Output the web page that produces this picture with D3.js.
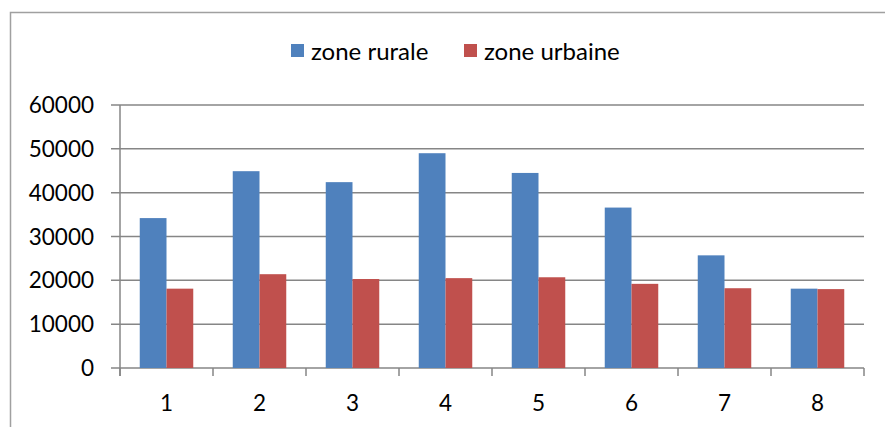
<!DOCTYPE html>
<html><head><meta charset="utf-8">
<script src="https://cdn.jsdelivr.net/npm/d3@7"></script>
<style>html,body{margin:0;padding:0;background:#fff;}svg{display:block;}</style>
</head><body>
<script>
const categories = ["1","2","3","4","5","6","7","8"];
const seriesNames = ["zone rurale","zone urbaine"];
const rurale = [34200, 44900, 42400, 49000, 44500, 36600, 25700, 18100];
const urbaine = [18100, 21400, 20300, 20500, 20700, 19200, 18200, 18000];
const yTicks = [0,10000,20000,30000,40000,50000,60000];
const colors = ["#4F81BD","#C0504D"];

const W=885,H=427;
const svg=d3.select("body").append("svg").attr("width",W).attr("height",H);
svg.append("rect").attr("x",10.5).attr("y",12.5).attr("width",W).attr("height",H)
  .attr("fill","none").attr("stroke","#a0a0a0").attr("stroke-width",1.5);

const x=d3.scaleBand().domain(categories).range([120,864]).padding(0);
const xs=d3.scaleBand().domain(seriesNames).range([0,x.bandwidth()]).paddingInner(0).paddingOuter(0.738);
const y=d3.scaleLinear().domain([0,60000]).range([368,105]);
const font="Lato, 'Open Sans', sans-serif";

// gridlines
svg.append("g").selectAll("line").data(yTicks).join("line")
  .attr("x1",111).attr("x2",864).attr("y1",d=>y(d)).attr("y2",d=>y(d))
  .attr("stroke","#868686").attr("stroke-width",1.5);
// y labels
svg.append("g").selectAll("text").data(yTicks).join("text")
  .attr("x",94).attr("y",d=>y(d)).attr("dy","0.36em").attr("text-anchor","end")
  .attr("font-family",font).attr("font-size",22.5).attr("fill","#000").text(d=>d);

// bars
const data=categories.map((c,i)=>({c,vals:[rurale[i],urbaine[i]]}));
const g=svg.append("g").selectAll("g").data(data).join("g").attr("transform",d=>`translate(${x(d.c)},0)`);
g.selectAll("rect").data(d=>d.vals.map((v,j)=>({k:seriesNames[j],v,j}))).join("rect")
  .attr("x",d=>xs(d.k)).attr("width",xs.bandwidth()).attr("y",d=>y(d.v)).attr("height",d=>y(0)-y(d.v))
  .attr("fill",d=>colors[d.j]);

// axes lines
svg.append("line").attr("x1",120).attr("x2",120).attr("y1",105).attr("y2",376).attr("stroke","#868686").attr("stroke-width",1.5);
const bounds=categories.map(c=>x(c)).concat([864]);
svg.append("g").selectAll("line").data(bounds).join("line")
  .attr("x1",d=>d).attr("x2",d=>d).attr("y1",368).attr("y2",376).attr("stroke","#868686").attr("stroke-width",1.5);
svg.append("g").selectAll("text").data(categories).join("text")
  .attr("x",d=>x(d)+x.bandwidth()/2).attr("y",403).attr("dy","0.36em").attr("text-anchor","middle")
  .attr("font-family",font).attr("font-size",22.5).attr("fill","#000").text(d=>d);

// legend
const leg=[{n:seriesNames[0],sx:291,tx:311,c:colors[0]},{n:seriesNames[1],sx:464,tx:484,c:colors[1]}];
const lg=svg.append("g").selectAll("g").data(leg).join("g");
lg.append("rect").attr("x",d=>d.sx).attr("y",44).attr("width",13).attr("height",13).attr("fill",d=>d.c);
lg.append("text").attr("x",d=>d.tx).attr("y",51).attr("dy","0.36em").attr("font-family",font)
  .attr("font-size",24).attr("fill","#000").text(d=>d.n);
</script>
</body></html>
